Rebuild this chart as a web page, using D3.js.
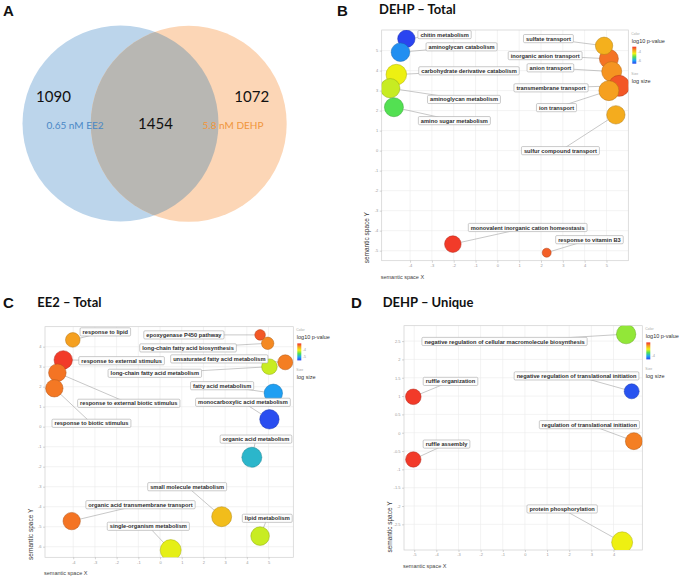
<!DOCTYPE html>
<html>
<head>
<meta charset="utf-8">
<script src="https://cdn.jsdelivr.net/npm/d3@7"></script>
<style>
  body { margin: 0; background: #fff; }
</style>
</head>
<body>
<div id="chart"></div>
<script>
// ---------- data ----------
// A: Venn
var vennSets = ["0.65 nM EE2", "5.8 nM DEHP"];
var vennCounts = [1090, 1454, 1072]; // EE2 only, shared, DEHP only

// colour ramp used by the REVIGO bubble plots (high p -> low p)
var colorStops = ["#f2302a", "#f5a020", "#eef012", "#52e052", "#1ea8f2", "#2a44f0"];

// B: DEHP – Total
var bTerms = ["chitin metabolism", "aminoglycan catabolism", "carbohydrate derivative catabolism",
  "aminoglycan metabolism", "amino sugar metabolism", "inorganic anion transport", "sulfate transport",
  "anion transport", "transmembrane transport", "ion transport", "sulfur compound transport",
  "monovalent inorganic cation homeostasis", "response to vitamin B3"];
var bX = [-4.17, -4.44, -4.63, -4.91, -4.74, 5.11, 4.89, 5.24, 5.58, 5.11, 5.43, -2.04, 2.26];
var bY = [5.59, 4.92, 3.80, 3.12, 2.17, 4.59, 5.24, 3.95, 3.24, 3.00, 1.79, -4.67, -5.10];
var bLogP = [-6.65, -6.10, -4.44, -4.62, -5.17, -3.40, -3.85, -3.62, -3.22, -3.70, -3.81, -3.03, -3.26];
var bLogSize = [3.85, 4.15, 4.65, 4.35, 4.25, 4.25, 3.85, 4.5, 4.75, 4.5, 4.1, 3.65, 1.75];
var bLabelX = [-2.42, -1.64, -1.30, -1.53, -1.97, 2.19, 2.34, 2.43, 2.46, 2.71, 2.89, 1.39, 4.22];
var bLabelY = [5.80, 5.19, 3.99, 2.56, 1.50, 4.75, 5.60, 4.14, 3.14, 2.15, 0.00, -3.84, -4.45];
var bXTicks = [-4, -3, -2, -1, 0, 1, 2, 3, 4, 5];
var bYTicks = [-5, -4, -3, -2, -1, 0, 1, 2, 3, 4, 5];
var bLegendTicks = [-4, -6];

// C: EE2 – Total
var cTerms = ["response to lipid", "response to external stimulus", "response to external biotic stimulus",
  "response to biotic stimulus", "epoxygenase P450 pathway", "long-chain fatty acid biosynthesis",
  "unsaturated fatty acid metabolism", "long-chain fatty acid metabolism", "fatty acid metabolism",
  "monocarboxylic acid metabolism", "organic acid metabolism", "small molecule metabolism",
  "lipid metabolism", "organic acid transmembrane transport", "single-organism metabolism"];
var cX = [-4.02, -4.46, -4.73, -4.87, 4.61, 4.96, 5.77, 5.04, 5.22, 5.04, 4.23, 2.84, 4.61, -4.07, 0.49];
var cY = [4.34, 3.34, 2.70, 1.92, 4.59, 4.17, 3.22, 3.00, 1.67, 0.37, -1.53, -4.50, -5.47, -4.72, -6.17];
var cLogP = [-3.48, -3.00, -3.27, -3.29, -3.14, -3.37, -3.32, -4.14, -5.12, -5.55, -4.94, -3.67, -4.14, -3.27, -4.04];
var cLogSize = [3.15, 4.1, 3.9, 3.85, 2.15, 2.6, 3.25, 3.4, 4.1, 4.35, 4.5, 4.5, 4.15, 3.85, 4.75];
var cLabelX = [-2.52, -1.77, -1.44, -3.16, 1.10, 1.29, 2.73, -0.24, 2.86, 3.82, 4.42, 1.25, 4.94, -0.90, -0.54];
var cLabelY = [4.74, 3.30, 1.17, 0.17, 4.59, 3.94, 3.39, 2.67, 2.05, 1.22, -0.62, -3.00, -4.58, -3.90, -4.98];
var cXTicks = [-4, -3, -2, -1, 0, 1, 2, 3, 4, 5];
var cYTicks = [-6, -5, -4, -3, -2, -1, 0, 1, 2, 3, 4];
var cLegendTicks = [-4, -5];

// D: DEHP – Unique
var dTerms = ["negative regulation of cellular macromolecule biosynthesis",
  "negative regulation of translational initiation", "regulation of translational initiation",
  "ruffle organization", "ruffle assembly", "protein phosphorylation"];
var dX = [4.57, 4.82, 4.92, -5.04, -5.04, 4.39];
var dY = [2.69, 1.13, -0.23, 0.98, -0.73, -2.99];
var dLogP = [-3.30, -4.52, -2.28, -1.95, -1.95, -2.98];
var dLogSize = [4.35, 3.25, 3.75, 3.4, 3.35, 4.75];
var dLabelX = [-0.92, 2.33, 2.91, -3.36, -3.54, 1.68];
var dLabelY = [2.49, 1.55, 0.22, 1.40, -0.31, -2.08];
var dXTicks = [-5, -4, -3, -2, -1, 0, 1, 2, 3, 4];
var dYTicks = [-2.5, -2, -1.5, -1, -0.5, 0, 0.5, 1, 1.5, 2, 2.5];
var dLegendTicks = [-4];

// ---------- drawing ----------
var W = 685, H = 578;
var svg = d3.select("#chart").append("svg")
  .attr("width", W).attr("height", H)
  .style("font-family", "'Liberation Sans', Arial, sans-serif");

var defs = svg.append("defs");

// panel letters
var letters = [["A", 3, 16], ["B", 337, 16], ["C", 3, 308], ["D", 351, 308]];
letters.forEach(function(l) {
  svg.append("text").attr("x", l[1]).attr("y", l[2]).text(l[0])
    .attr("font-size", 15).attr("font-weight", "bold").attr("fill", "#111");
});

// ---- Venn (A) ----
var venn = svg.append("g");
var vc = [[120.5, 123.5], [188.7, 123.8]];
var vr = 98;
var vFill = ["#bcd5eb", "#fcd6b6"];
vc.forEach(function(c, i) {
  venn.append("circle").attr("cx", c[0]).attr("cy", c[1]).attr("r", vr).attr("fill", vFill[i]);
});
defs.append("clipPath").attr("id", "vclip")
  .append("circle").attr("cx", vc[0][0]).attr("cy", vc[0][1]).attr("r", vr);
venn.append("circle").attr("cx", vc[1][0]).attr("cy", vc[1][1]).attr("r", vr)
  .attr("clip-path", "url(#vclip)").attr("fill", "#b8b7b3");

var vennFont = "Lato, 'Open Sans', sans-serif";
[[53.5, 101.5], [155.5, 129], [251.7, 101.5]].forEach(function(p, i) {
  venn.append("text").attr("x", p[0]).attr("y", p[1]).attr("text-anchor", "middle")
    .attr("font-family", vennFont).attr("font-size", 15).attr("fill", "#111")
    .text(vennCounts[i]);
});
venn.append("text").attr("x", 75).attr("y", 128.5).attr("text-anchor", "middle")
  .attr("font-family", vennFont).attr("font-size", 10).attr("fill", "#4a88c6").text(vennSets[0]);
venn.append("text").attr("x", 233).attr("y", 128.5).attr("text-anchor", "middle")
  .attr("font-family", vennFont).attr("font-size", 10).attr("fill", "#f0953a").text(vennSets[1]);

// ---- REVIGO bubble panels ----
var rScale = d3.scaleLinear().domain([1, 5]).range([3, 11]);

function drawPanel(p) {
  var g = svg.append("g");
  var x = d3.scaleLinear().domain(p.xDomain).range([p.left, p.right]);
  var y = d3.scaleLinear().domain(p.yDomain).range([p.bottom, p.top]);
  var n = colorStops.length;
  var color = d3.scaleLinear()
    .domain(colorStops.map(function(c, i) { return p.pHi + (p.pLo - p.pHi) * i / (n - 1); }))
    .range(colorStops).interpolate(d3.interpolateRgb).clamp(true);

  // title
  svg.append("text").attr("x", p.titleX).attr("y", p.titleY).text(p.title)
    .attr("font-family", "Lato, 'Open Sans', sans-serif")
    .attr("font-size", 13).attr("font-weight", "bold").attr("fill", "#111");

  // panel + grid
  g.append("rect").attr("x", p.left).attr("y", p.top)
    .attr("width", p.right - p.left).attr("height", p.bottom - p.top)
    .attr("fill", "#fff");
  g.selectAll(".gx").data(p.xTicks).enter().append("line")
    .attr("x1", d => x(d)).attr("x2", d => x(d)).attr("y1", p.top).attr("y2", p.bottom)
    .attr("stroke", "#ebebeb").attr("stroke-width", 0.6);
  g.selectAll(".gy").data(p.yTicks).enter().append("line")
    .attr("y1", d => y(d)).attr("y2", d => y(d)).attr("x1", p.left).attr("x2", p.right)
    .attr("stroke", "#ebebeb").attr("stroke-width", 0.6);
  g.append("rect").attr("x", p.left).attr("y", p.top)
    .attr("width", p.right - p.left).attr("height", p.bottom - p.top)
    .attr("fill", "none").attr("stroke", "#cfcfcf").attr("stroke-width", 0.7);

  var ax = g.append("g").attr("transform", "translate(0," + p.bottom + ")")
    .call(d3.axisBottom(x).tickValues(p.xTicks).tickSize(2).tickPadding(1.5).tickFormat(String));
  var ay = g.append("g").attr("transform", "translate(" + p.left + ",0)")
    .call(d3.axisLeft(y).tickValues(p.yTicks).tickSize(2).tickPadding(1.5).tickFormat(String));
  [ax, ay].forEach(function(a) {
    a.select(".domain").remove();
    a.selectAll("line").attr("stroke", "#aaa").attr("stroke-width", 0.5);
    a.selectAll("text").attr("font-size", 4).attr("fill", "#999")
      .attr("font-family", "'Liberation Sans', Arial, sans-serif");
  });

  // axis titles
  g.append("text").attr("x", p.left - 1).attr("y", p.bottom + 18).text("semantic space X")
    .attr("font-size", 5.5).attr("fill", "#444");
  g.append("text")
    .attr("transform", "translate(" + (p.left - 12.5) + "," + (p.bottom - 23) + ") rotate(-90)")
    .attr("text-anchor", "middle").text("semantic space Y")
    .attr("font-size", 6.5).attr("fill", "#333");

  var rows = p.terms.map(function(t, i) {
    return { term: t, x: p.xs[i], y: p.ys[i], logp: p.logp[i], size: p.size[i], lx: p.lx[i], ly: p.ly[i] };
  });

  // leader lines
  g.selectAll(".seg").data(rows).enter().append("line")
    .attr("x1", d => x(d.lx)).attr("y1", d => y(d.ly))
    .attr("x2", d => x(d.x)).attr("y2", d => y(d.y))
    .attr("stroke", "#9a9a9a").attr("stroke-width", 0.55);

  // bubbles, clipped to the panel
  var cid = "clip" + p.id;
  defs.append("clipPath").attr("id", cid).append("rect")
    .attr("x", p.left).attr("y", p.top).attr("width", p.right - p.left).attr("height", p.bottom - p.top);
  g.append("g").attr("clip-path", "url(#" + cid + ")")
    .selectAll("circle").data(rows).enter().append("circle")
    .attr("cx", d => x(d.x)).attr("cy", d => y(d.y)).attr("r", d => rScale(d.size))
    .attr("fill", d => color(d.logp))
    .attr("stroke", d => d3.color(color(d.logp)).darker(0.9))
    .attr("stroke-width", 0.5);

  // label boxes
  var lab = g.selectAll(".lab").data(rows).enter().append("g")
    .attr("transform", d => "translate(" + x(d.lx) + "," + y(d.ly) + ")");
  lab.append("text").attr("text-anchor", "middle").attr("dy", "0.36em")
    .attr("font-size", 5.7).attr("font-weight", "bold").attr("fill", "#2e2e2e")
    .text(d => d.term);
  lab.each(function() {
    var gg = d3.select(this);
    var w = gg.select("text").node().getComputedTextLength();
    gg.insert("rect", "text").attr("x", -w / 2 - 2.5).attr("y", -4.1)
      .attr("width", w + 5).attr("height", 8.2).attr("rx", 1.2)
      .attr("fill", "#fdfdfd").attr("stroke", "#a8a8a8").attr("stroke-width", 0.6);
  });

  // legend
  var lx = p.right + 3, ly = p.top;
  var leg = g.append("g");
  leg.append("text").attr("x", lx).attr("y", ly + 4.5).text("Color").attr("font-size", 3.5).attr("fill", "#aaa");
  leg.append("text").attr("x", lx + 0.5).attr("y", ly + 12.5).text("log10 p-value").attr("font-size", 5.5).attr("fill", "#333");
  var gid = "grad" + p.id;
  var grad = defs.append("linearGradient").attr("id", gid).attr("x1", 0).attr("y1", 0).attr("x2", 0).attr("y2", 1);
  colorStops.forEach(function(c, i) {
    grad.append("stop").attr("offset", (i / (n - 1))).attr("stop-color", c);
  });
  var barTop = ly + 16.7, barH = 17;
  leg.append("rect").attr("x", lx + 1).attr("y", barTop).attr("width", 4).attr("height", barH)
    .attr("fill", "url(#" + gid + ")");
  var ls = d3.scaleLinear().domain([p.pHi, p.pLo]).range([barTop, barTop + barH]);
  leg.selectAll(".lt").data(p.legendTicks).enter().append("text")
    .attr("x", lx + 6.5).attr("y", d => ls(d)).attr("dy", "0.35em")
    .text(String).attr("font-size", 3.5).attr("fill", "#999");
  leg.append("text").attr("x", lx).attr("y", ly + 44.5).text("Size").attr("font-size", 3.5).attr("fill", "#aaa");
  leg.append("text").attr("x", lx + 0.5).attr("y", ly + 52.5).text("log size").attr("font-size", 5.5).attr("fill", "#333");
}

drawPanel({
  id: "B", title: "DEHP \u2013 Total", titleX: 379, titleY: 14,
  left: 381.7, right: 628.3, top: 30, bottom: 260.7,
  xDomain: [-5.3, 6.0], yDomain: [-5.5, 6.03], pHi: -2.96, pLo: -6.65,
  xTicks: bXTicks, yTicks: bYTicks, legendTicks: bLegendTicks,
  terms: bTerms, xs: bX, ys: bY, logp: bLogP, size: bLogSize, lx: bLabelX, ly: bLabelY
});
drawPanel({
  id: "C", title: "EE2 \u2013 Total", titleX: 37.3, titleY: 307,
  left: 45, right: 293.3, top: 326.7, bottom: 557.3,
  xDomain: [-5.3, 6.14], yDomain: [-6.53, 5.0], pHi: -2.95, pLo: -5.6,
  xTicks: cXTicks, yTicks: cYTicks, legendTicks: cLegendTicks,
  terms: cTerms, xs: cX, ys: cY, logp: cLogP, size: cLogSize, lx: cLabelX, ly: cLabelY
});
drawPanel({
  id: "D", title: "DEHP \u2013 Unique", titleX: 382.7, titleY: 307,
  left: 404, right: 642.3, top: 325.7, bottom: 550,
  xDomain: [-5.46, 5.3], yDomain: [-3.2, 2.92], pHi: -1.9, pLo: -4.6,
  xTicks: dXTicks, yTicks: dYTicks, legendTicks: dLegendTicks,
  terms: dTerms, xs: dX, ys: dY, logp: dLogP, size: dLogSize, lx: dLabelX, ly: dLabelY
});
</script>
</body>
</html>
